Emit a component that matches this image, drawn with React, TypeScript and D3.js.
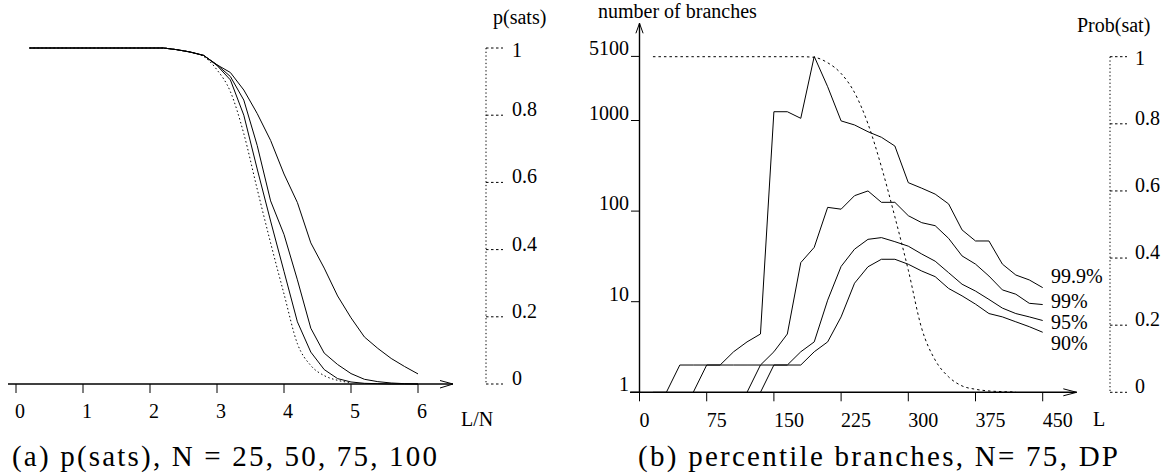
import * as d3 from "d3";

// (a) p(sats) against L/N
const ratioLN = [0.2, 0.4, 0.6, 0.8, 1.0, 1.2, 1.4, 1.6, 1.8, 2.0, 2.2, 2.4, 2.6, 2.8, 3.0, 3.2, 3.4, 3.6, 3.8, 4.0, 4.2, 4.4, 4.6, 4.8, 5.0, 5.2, 5.4, 5.6, 5.8, 6.0];
const satN25 = [1, 1, 1, 1, 1, 1, 1, 1, 1, 1, 1, 0.995, 0.988, 0.978, 0.95, 0.927, 0.875, 0.805, 0.725, 0.625, 0.54, 0.42, 0.345, 0.262, 0.197, 0.14, 0.106, 0.076, 0.052, 0.03];
const satN50 = [1, 1, 1, 1, 1, 1, 1, 1, 1, 1, 1, 0.995, 0.988, 0.978, 0.95, 0.915, 0.845, 0.71, 0.545, 0.445, 0.31, 0.166, 0.092, 0.058, 0.031, 0.014, 0.007, 0.003, 0.001, 0];
const satN75 = [1, 1, 1, 1, 1, 1, 1, 1, 1, 1, 1, 0.995, 0.988, 0.978, 0.948, 0.905, 0.8, 0.64, 0.485, 0.335, 0.185, 0.095, 0.043, 0.016, 0.006, 0.002, 0.001, 0, 0, 0];
const satN100 = [1, 1, 1, 1, 1, 1, 1, 1, 1, 1, 1, 0.995, 0.988, 0.975, 0.935, 0.87, 0.745, 0.58, 0.42, 0.268, 0.12, 0.055, 0.025, 0.011, 0.004, null, null, null, null, null];
const ticksLN = [0, 1, 2, 3, 4, 5, 6];
const ticksP = [0, 0.2, 0.4, 0.6, 0.8, 1];

// (b) percentile branches against L
const lengthL = [15, 30, 45, 60, 75, 90, 105, 120, 135, 150, 165, 180, 195, 210, 225, 240, 255, 270, 285, 300, 315, 330, 345, 360, 375, 390, 405, 420, 435, 450];
const pct999 = [1, 1, 2, 2, 2, 2, 2.8, 3.6, 4.4, 1250, 1250, 1057, 5100, 2360, 990, 893, 752, 653, 523, 206, 179, 154, 120, 62, 46.8, 46.8, 26, 19.7, 17.4, 14.3];
const pct99 = [null, null, null, 1, 2, 2, 2, 2, 2, 2.8, 4.4, 27, 39.8, 110, 105, 148, 167, 125, 125, 89, 74.5, 69, 50, 32, 26, 19.2, 13.5, 12.1, 9.6, 9.3];
const pct95 = [null, null, null, null, null, null, null, 1, 2, 2, 2, 2.8, 3.6, 10.4, 24.5, 38, 48.8, 51, 46, 41, 33.6, 28, 20.9, 15.6, 13.1, 10.6, 8.5, 7.4, 6.8, 6.2];
const pct90 = [null, null, null, null, null, null, null, null, 1, 2, 2, 2, 2.8, 3.6, 6.8, 16, 24.3, 29.4, 29.4, 25.9, 21.8, 18.9, 14, 11.6, 9.4, 7.4, 6.8, 6.0, 5.3, 4.6];
const probSat = [1, 1, 1, 1, 1, 1, 1, 1, 1, 1, 1, 1, 0.998, 0.982, 0.95, 0.893, 0.8, 0.672, 0.523, 0.364, 0.19, 0.096, 0.046, 0.019, 0.009, 0.004, 0.002, 0.001, null, null];
const ticksL = [0, 75, 150, 225, 300, 375, 450];
const ticksBranches = [1, 10, 100, 1000, 5100];
const pctLabels = ["99.9%", "99%", "95%", "90%"];

const FONT = "Liberation Serif, DejaVu Serif, serif";

function pathOf(xs: number[], ys: (number | null)[], x: (v: number) => number, y: (v: number) => number, curve = d3.curveLinear) {
  return d3.line<number>()
    .defined((_, i) => ys[i] != null)
    .x((d) => x(d))
    .y((_, i) => y(ys[i] as number))
    .curve(curve)(xs) || "";
}

export default function App() {
  // left panel scales
  const xA = d3.scaleLinear().domain([0, 6]).range([16, 418]);
  const yA = d3.scaleLinear().domain([0, 1]).range([384, 48]);
  // right panel scales
  const xB = d3.scaleLinear().domain([0, 450]).range([639.5, 1042.7]);
  const yB = d3.scaleLog().domain([1, 5100]).range([392.3, 56.4]);
  const pB = d3.scaleLinear().domain([0, 1]).range([392.3, 56.7]);

  const solidA = [satN25, satN50, satN75];
  const pctSeries = [pct999, pct99, pct95, pct90];
  const lblY = [283, 308, 329, 350];

  return (
    <svg width={1169} height={475} style={{ position: "absolute", left: 0, top: 0, background: "#fff", fontFamily: FONT }}>
      {/* ---------- (a) ---------- */}
      <g fill="none" stroke="#000">
        {solidA.map((s, i) => (
          <path key={i} d={pathOf(ratioLN, s, xA, yA)} strokeWidth={1} />
        ))}
        <path d={pathOf(ratioLN, satN100, xA, yA, d3.curveMonotoneX)} strokeWidth={1} strokeDasharray="1.5,2.5" />
        <line x1={8} x2={453} y1={yA(0)} y2={yA(0)} strokeWidth={1.4} />
        <path d={`M440,${yA(0) - 3.5}L453,${yA(0)}L440,${yA(0) + 4}`} strokeWidth={1} />
        {ticksLN.map((t) => (
          <line key={t} x1={xA(t)} x2={xA(t)} y1={yA(0)} y2={yA(0) + 9} strokeWidth={1} />
        ))}
        <line x1={486} x2={486} y1={yA(1)} y2={yA(0)} strokeWidth={1} strokeDasharray="1.3,2.4" />
        {ticksP.map((t) => (
          <line key={t} x1={486} x2={503} y1={yA(t)} y2={yA(t)} strokeWidth={1} strokeDasharray="2.5,2.5" />
        ))}
      </g>
      <g fontSize={20} fill="#000" style={{ fontFamily: FONT }}>
        {ticksLN.map((t) => (
          <text key={t} x={xA(t) - 1} y={418}>{t}</text>
        ))}
        {ticksP.map((t) => (
          <text key={t} x={512} y={yA(t) + (t === 1 ? 8.5 : 1)}>{t}</text>
        ))}
        <text x={461} y={426}>L/N</text>
        <text x={493} y={24}>p(sats)</text>
      </g>
      <text x={12} y={466} fontSize={29} textLength={425} lengthAdjust="spacing" style={{ fontFamily: FONT }}>(a) p(sats), N = 25, 50, 75, 100</text>

      {/* ---------- (b) ---------- */}
      <g fill="none" stroke="#000">
        {pctSeries.map((s, i) => (
          <path key={i} d={pathOf(lengthL, s, xB, yB)} strokeWidth={1} />
        ))}
        <path d={pathOf(lengthL, probSat, xB, pB, d3.curveMonotoneX)} strokeWidth={1} strokeDasharray="2.5,3" />
        <line x1={630} x2={1076.7} y1={yB(1)} y2={yB(1)} strokeWidth={1.4} />
        <path d={`M1063.3,${yB(1) - 3.5}L1076.7,${yB(1)}L1063.3,${yB(1) + 3.5}`} strokeWidth={1} />
        <line x1={xB(0)} x2={xB(0)} y1={yB(1)} y2={23.3} strokeWidth={1.4} />
        <path d={`M635.9,33.3L${xB(0)},23.3L643.1,33.3`} strokeWidth={1} />
        {ticksL.map((t) => (
          <line key={t} x1={xB(t)} x2={xB(t)} y1={yB(1)} y2={yB(1) + 9} strokeWidth={1} />
        ))}
        {ticksBranches.map((t) => (
          <line key={t} x1={631} x2={xB(0)} y1={yB(t)} y2={yB(t)} strokeWidth={1} />
        ))}
        <line x1={1110} x2={1110} y1={pB(1)} y2={pB(0)} strokeWidth={1} strokeDasharray="1.3,2.4" />
        {ticksP.map((t) => (
          <line key={t} x1={1110} x2={1127} y1={pB(t)} y2={pB(t)} strokeWidth={1} strokeDasharray="2.5,2.5" />
        ))}
      </g>
      <g fontSize={20} fill="#000" style={{ fontFamily: FONT }}>
        {ticksL.map((t) => (
          <text key={t} x={xB(t)} y={427}>{t}</text>
        ))}
        {ticksBranches.map((t) => (
          <text key={t} x={629} y={yB(t) - 1} textAnchor="end">{t}</text>
        ))}
        {ticksP.map((t) => (
          <text key={t} x={1135} y={pB(t) + (t === 1 ? 8.5 : 1)}>{t}</text>
        ))}
        {pctLabels.map((l, i) => (
          <text key={l} x={1051} y={lblY[i]}>{l}</text>
        ))}
        <text x={1093} y={426}>L</text>
        <text x={598} y={18}>number of branches</text>
        <text x={1077} y={32}>Prob(sat)</text>
      </g>
      <text x={638} y={466} fontSize={29} textLength={480} lengthAdjust="spacing" style={{ fontFamily: FONT }}>(b) percentile branches, N= 75, DP</text>
    </svg>
  );
}
